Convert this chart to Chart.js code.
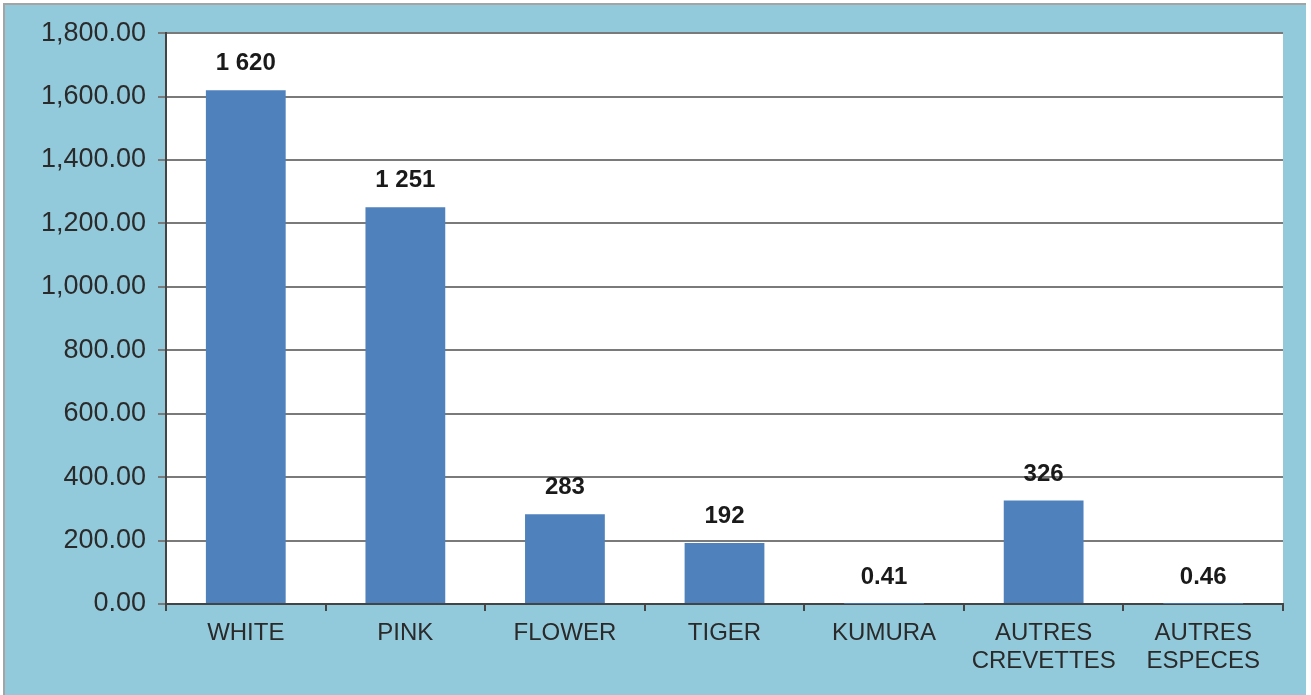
<!DOCTYPE html>
<html>
<head>
<meta charset="utf-8">
<script src="https://cdn.jsdelivr.net/npm/chart.js@4"></script>
<style>
  html, body { margin: 0; padding: 0; background: #fff; }
  #wrap {
    position: absolute; left: 3px; top: 3px;
    width: 1301px; height: 690px;
    border-left: 2px solid #a4a4a4; border-top: 2px solid #a4a4a4;
    background: #92cadb;
  }
  canvas { display: block; }
</style>
</head>
<body>
<div id="wrap"><canvas id="barChart" width="1301" height="690"></canvas></div>
<script>
const categories = ['WHITE', 'PINK', 'FLOWER', 'TIGER', 'KUMURA', ['AUTRES', 'CREVETTES'], ['AUTRES', 'ESPECES']];
const values = [1620, 1251, 283, 192, 0.41, 326, 0.46];
const yMax = 1800;
const yStep = 200;

// "1 620" style for big numbers, two decimals for tiny ones
function valueLabel(v) {
    if (v < 1) return v.toFixed(2);
    return Math.round(v).toString().replace(/\B(?=(\d{3})+(?!\d))/g, ' ');
}

const barLabels = {
    id: 'barLabels',
    afterDatasetsDraw(chart) {
        const ctx = chart.ctx;
        const meta = chart.getDatasetMeta(0);
        ctx.save();
        ctx.font = 'bold 24px "Liberation Sans", Arial, sans-serif';
        ctx.fillStyle = '#1a1a1a';
        ctx.textAlign = 'center';
        ctx.textBaseline = 'alphabetic';
        meta.data.forEach((bar, i) => {
            ctx.fillText(valueLabel(values[i]), bar.x, bar.y - 20);
        });
        ctx.restore();
    }
};

const ctx = document.getElementById('barChart').getContext('2d');
new Chart(ctx, {
    type: 'bar',
    data: {
        labels: categories,
        datasets: [{
            data: values,
            backgroundColor: '#4f81bd',
            borderWidth: 0,
            categoryPercentage: 1,
            barPercentage: 0.5
        }]
    },
    options: {
        responsive: false,
        animation: false,
        layout: { padding: { left: 0, top: 27, right: 23, bottom: 0 } },
        plugins: {
            legend: { display: false },
            tooltip: { enabled: false }
        },
        scales: {
            x: {
                grid: {
                    offset: true,
                    drawOnChartArea: false,
                    drawTicks: true,
                    tickLength: 7,
                    color: '#444',
                    lineWidth: 2
                },
                border: { color: '#444', width: 2 },
                ticks: {
                    color: '#2a2a2a',
                    padding: 8,
                    maxRotation: 0,
                    autoSkip: false,
                    font: { family: '"Liberation Sans", Arial, sans-serif', size: 24, lineHeight: 1.17 }
                },
                afterFit(scale) { scale.height = 91; }
            },
            y: {
                min: 0,
                max: yMax,
                ticks: {
                    stepSize: yStep,
                    color: '#2a2a2a',
                    padding: 12,
                    font: { family: '"Liberation Sans", Arial, sans-serif', size: 27 },
                    callback: v => v.toLocaleString('en-US', { minimumFractionDigits: 2, maximumFractionDigits: 2 })
                },
                grid: {
                    color: '#7a7a7a',
                    lineWidth: 2,
                    tickLength: 8
                },
                border: { color: '#444', width: 2 },
                afterFit(scale) { scale.width = 161; }
            }
        }
    },
    plugins: [barLabels, {
        id: 'plotBg',
        beforeDraw(chart) {
            const a = chart.chartArea;
            chart.ctx.save();
            chart.ctx.fillStyle = '#ffffff';
            chart.ctx.fillRect(a.left, a.top, a.right - a.left, a.bottom - a.top);
            chart.ctx.restore();
        }
    }]
});
</script>
</body>
</html>
